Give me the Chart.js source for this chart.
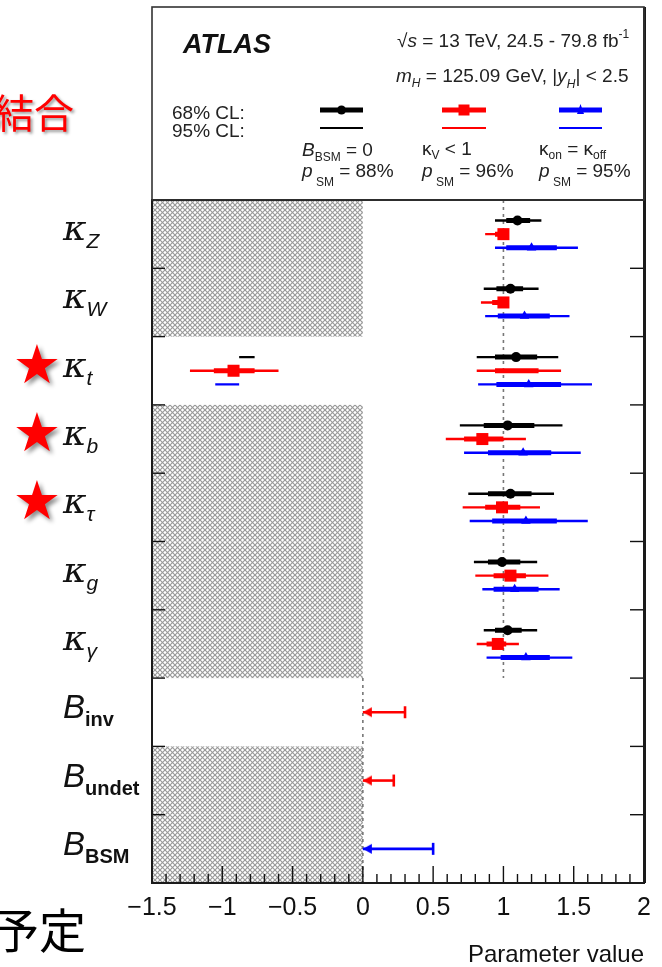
<!DOCTYPE html>
<html>
<head>
<meta charset="utf-8">
<script src="https://cdn.jsdelivr.net/npm/chart.js@4.4.0/dist/chart.umd.min.js"></script>
<style>
  html, body { margin: 0; padding: 0; background: #fff; }
  canvas { display: block; }
</style>
</head>
<body>
<canvas id="couplingChart" width="662" height="967"></canvas>
<script>
// rows, top to bottom
var rowMain = ['κ', 'κ', 'κ', 'κ', 'κ', 'κ', 'κ', 'B', 'B', 'B'];
var rowSub = ['Z', 'W', 't', 'b', 'τ', 'g', 'γ', 'inv', 'undet', 'BSM'];
var starredRows = [2, 3, 4];
var hatchedRows = [0, 1, 3, 4, 5, 6, 8, 9];
var kappaRows = [0, 1, 2, 3, 4, 5, 6];
var xTickLabels = [-1.5, -1, -0.5, 0, 0.5, 1, 1.5, 2];

// B_BSM = 0 (black)
var blackValue = [1.10, 1.05, 1.09, 1.03, 1.05, 0.99, 1.03];
var blackLo68 = [1.02, 0.95, 0.94, 0.86, 0.89, 0.89, 0.94];
var blackHi68 = [1.19, 1.14, 1.24, 1.22, 1.20, 1.12, 1.13];
var blackLo95 = [0.94, 0.86, 0.81, 0.69, 0.75, 0.79, 0.86];
var blackHi95 = [1.27, 1.25, 1.39, 1.42, 1.36, 1.24, 1.24];
var blackExtra95 = [[2, -0.88, -0.77]];

// kappa_V < 1 (red)
var redValue = [1.00, 1.00, -0.92, 0.85, 0.99, 1.05, 0.96];
var redLo68 = [0.94, 0.92, 0.94, 0.72, 0.87, 0.93, 0.88];
var redHi68 = [1.00, 1.00, 1.25, 1.00, 1.12, 1.16, 1.02];
var redLo95 = [0.87, 0.84, 0.81, 0.59, 0.71, 0.80, 0.81];
var redHi95 = [1.00, 1.00, 1.41, 1.16, 1.26, 1.32, 1.11];
var redExtra68 = [[2, -1.06, -0.77]];
var redExtra95 = [[2, -1.23, -0.60]];

// kappa_on = kappa_off (blue)
var blueValue = [1.20, 1.15, 1.18, 1.14, 1.16, 1.08, 1.16];
var blueLo68 = [1.02, 0.96, 0.95, 0.89, 0.92, 0.93, 0.98];
var blueHi68 = [1.38, 1.33, 1.41, 1.34, 1.38, 1.25, 1.33];
var blueLo95 = [0.94, 0.87, 0.82, 0.72, 0.76, 0.85, 0.88];
var blueHi95 = [1.53, 1.47, 1.63, 1.55, 1.60, 1.40, 1.49];
var blueExtra95 = [[2, -1.05, -0.88]];

// 95% CL upper limits on branching ratios
var limitRows = [7, 8, 9];
var limitValues = [0.30, 0.22, 0.50];
var limitSeries = ['red', 'red', 'blue'];

var FONT = "'Liberation Sans', Arial, sans-serif";
var colors = { black: '#000000', red: '#ff0000', blue: '#0000ff' };
var offsets = { black: -0.2, red: 0, blue: 0.2 };

function gap() { return { x: NaN, y: NaN }; }
function rowY(row, off) { return row + 0.5 + off; }

function intervals(lo, hi, off, extra) {
        var pts = [];
        for (var i = 0; i < lo.length; i++) {
                pts.push({ x: lo[i], y: rowY(kappaRows[i], off) }, { x: hi[i], y: rowY(kappaRows[i], off) }, gap());
        }
        (extra || []).forEach(function(e) {
                pts.push({ x: e[1], y: rowY(e[0], off) }, { x: e[2], y: rowY(e[0], off) }, gap());
        });
        return pts;
}

function markers(values, off) {
        return values.map(function(v, i) { return { x: v, y: rowY(kappaRows[i], off) }; });
}

function lineSet(data, color, width, order) {
        return { data: data, showLine: true, borderColor: color, borderWidth: width, pointRadius: 0,
                borderCapStyle: 'butt', spanGaps: false, order: order };
}

function arrowImage(color) {
        var c = document.createElement('canvas');
        c.width = 20; c.height = 12;
        var g = c.getContext('2d');
        g.fillStyle = color;
        g.beginPath(); g.moveTo(10, 6); g.lineTo(19, 1); g.lineTo(19, 11); g.closePath(); g.fill();
        return c;
}

var datasets = [];
['black', 'red', 'blue'].forEach(function(s) {
        var lo68 = window[s + 'Lo68'], hi68 = window[s + 'Hi68'];
        var lo95 = window[s + 'Lo95'], hi95 = window[s + 'Hi95'];
        datasets.push(lineSet(intervals(lo95, hi95, offsets[s], window[s + 'Extra95']), colors[s], 2.4, 3));
        datasets.push(lineSet(intervals(lo68, hi68, offsets[s], window[s + 'Extra68']), colors[s], 5, 2));
});
datasets.push({ data: markers(blackValue, offsets.black), pointStyle: 'circle', pointRadius: 5,
        backgroundColor: colors.black, borderWidth: 0, order: 0 });
datasets.push({ data: markers(redValue, offsets.red), pointStyle: 'rect', pointRadius: 8.5,
        backgroundColor: colors.red, borderWidth: 0, order: 0 });
datasets.push({ data: markers(blueValue, offsets.blue), pointStyle: 'triangle', pointRadius: 5.5,
        backgroundColor: colors.blue, borderWidth: 0, order: 0 });

// upper limit arrows
limitRows.forEach(function(r, i) {
        var c = colors[limitSeries[i]];
        var yv = rowY(r, 0);
        datasets.push(lineSet([{ x: 0, y: yv }, { x: limitValues[i], y: yv }], c, 2.6, 2));
        datasets.push({ data: [{ x: 0, y: yv }], pointStyle: arrowImage(c), pointRadius: 6, order: 0 });
        datasets.push({ data: [{ x: limitValues[i], y: yv }], pointStyle: 'line', pointRotation: 90,
                pointRadius: 6, borderColor: c, borderWidth: 2.6, order: 0 });
});

// SM expectation (dotted)
datasets.push({ data: [{ x: 1, y: 0 }, { x: 1, y: 7 }, gap(), { x: 0, y: 7 }, { x: 0, y: 10 }],
        showLine: true, spanGaps: false, pointRadius: 0, borderColor: '#777', borderWidth: 1.6,
        borderDash: [3, 4], order: 5 });

function hatchPattern(ctx) {
        var p = 5;
        var tile = document.createElement('canvas');
        tile.width = p; tile.height = p;
        var t = tile.getContext('2d');
        t.fillStyle = '#ffffff'; t.fillRect(0, 0, p, p);
        t.strokeStyle = '#9a9a9a'; t.lineWidth = 1.2;
        [-p, 0, p].forEach(function(k) {
                t.beginPath(); t.moveTo(k, 0); t.lineTo(k + p, p); t.stroke();
                t.beginPath(); t.moveTo(k + p, 0); t.lineTo(k, p); t.stroke();
        });
        return ctx.createPattern(tile, 'repeat');
}

function drawParts(ctx, x, y, parts) {
        ctx.textAlign = 'left';
        ctx.textBaseline = 'alphabetic';
        parts.forEach(function(p) {
                ctx.font = p[1];
                ctx.fillText(p[0], x, y + (p[2] || 0));
                x += ctx.measureText(p[0]).width;
        });
        return x;
}

var decorations = {
        id: 'decorations',
        beforeDatasetsDraw: function(chart) {
                var ctx = chart.ctx, xs = chart.scales.x, ys = chart.scales.y;
                ctx.save();
                ctx.fillStyle = hatchPattern(ctx);
                hatchedRows.forEach(function(r) {
                        var x0 = xs.getPixelForValue(xs.min), x1 = xs.getPixelForValue(0);
                        var y0 = ys.getPixelForValue(r), y1 = ys.getPixelForValue(r + 1);
                        ctx.fillRect(x0, y0, x1 - x0, y1 - y0);
                });
                ctx.restore();
        },
        afterDraw: function(chart) {
                var ctx = chart.ctx, xs = chart.scales.x, ys = chart.scales.y, a = chart.chartArea;
                ctx.save();

                // ticks
                ctx.strokeStyle = '#111'; ctx.lineWidth = 1.4;
                for (var k = -15; k <= 20; k++) {
                        var px = xs.getPixelForValue(k / 10);
                        var len = (k % 5 === 0) ? 17 : 9;
                        ctx.beginPath(); ctx.moveTo(px, a.bottom); ctx.lineTo(px, a.bottom - len); ctx.stroke();
                }
                for (var r = 1; r < rowMain.length; r++) {
                        var py = ys.getPixelForValue(r);
                        ctx.beginPath(); ctx.moveTo(a.left, py); ctx.lineTo(a.left + 13, py); ctx.stroke();
                        ctx.beginPath(); ctx.moveTo(a.right, py); ctx.lineTo(a.right - 14, py); ctx.stroke();
                }

                // frame
                ctx.strokeStyle = '#1a1a1a'; ctx.lineWidth = 2;
                ctx.strokeRect(a.left, a.top, a.right - a.left, a.bottom - a.top);
                ctx.lineWidth = 3;
                ctx.beginPath(); ctx.moveTo(a.right + 0.5, 7); ctx.lineTo(a.right + 0.5, a.bottom); ctx.stroke();

                // row labels
                ctx.fillStyle = '#111';
                rowMain.forEach(function(m, i) {
                        var cy = ys.getPixelForValue(i + 0.5);
                        if (m === 'κ') {
                                drawParts(ctx, 63, cy + 6, [[m, "italic 36px 'DejaVu Serif'", 0], [rowSub[i], 'italic 21px ' + FONT, 8]]);
                        } else {
                                drawParts(ctx, 63, cy + 6, [[m, 'italic 33px ' + FONT, 0], [rowSub[i], 'bold 20px ' + FONT, 8]]);
                        }
                });

                // stars
                ctx.save();
                ctx.fillStyle = '#ff0000';
                ctx.shadowColor = 'rgba(0,0,0,0.45)'; ctx.shadowOffsetX = 3; ctx.shadowOffsetY = 3; ctx.shadowBlur = 4;
                ctx.font = "54px 'DejaVu Sans'";
                ctx.textAlign = 'center'; ctx.textBaseline = 'middle';
                starredRows.forEach(function(r) {
                        ctx.fillText('★', 37, ys.getPixelForValue(r + 0.5) - 2);
                });
                ctx.restore();

                // header box
                ctx.strokeStyle = '#333'; ctx.lineWidth = 1.6;
                ctx.strokeRect(a.left, 7, a.right - a.left, a.top - 7);
                ctx.fillStyle = '#111';
                drawParts(ctx, 183, 53, [['ATLAS', 'bold italic 27px ' + FONT, 0]]);
                ctx.fillStyle = '#222';
                drawParts(ctx, 397, 47, [['√', '19px ' + FONT, 0], ['s', 'italic 19px ' + FONT, 0],
                        [' = 13 TeV, 24.5 - 79.8 fb', '19px ' + FONT, 0], ['-1', '12px ' + FONT, -9]]);
                drawParts(ctx, 396, 82, [['m', 'italic 19px ' + FONT, 0], ['H', 'italic 12px ' + FONT, 5],
                        [' = 125.09 GeV, |', '19px ' + FONT, 0], ['y', 'italic 19px ' + FONT, 0],
                        ['H', 'italic 12px ' + FONT, 6], ['| < 2.5', '19px ' + FONT, 0]]);
                drawParts(ctx, 172, 119, [['68% CL:', '19px ' + FONT, 0]]);
                drawParts(ctx, 172, 137, [['95% CL:', '19px ' + FONT, 0]]);
                drawParts(ctx, 302, 156, [['B', 'italic 19px ' + FONT, 0], ['BSM', '12px ' + FONT, 5], [' = 0', '19px ' + FONT, 0]]);
                drawParts(ctx, 422, 155, [['κ', '19px ' + FONT, 0], ['V', '12px ' + FONT, 4], [' < 1', '19px ' + FONT, 0]]);
                drawParts(ctx, 539, 155, [['κ', '19px ' + FONT, 0], ['on', '12px ' + FONT, 4], [' = ', '19px ' + FONT, 0],
                        ['κ', '19px ' + FONT, 0], ['off', '12px ' + FONT, 4]]);
                ['88%', '96%', '95%'].forEach(function(t, i) {
                        drawParts(ctx, [302, 422, 539][i], 177, [['p', 'italic 19px ' + FONT, 0], [' SM', '12px ' + FONT, 9],
                                [' = ' + t, '19px ' + FONT, 0]]);
                });

                // legend samples
                [['black', 320, 363], ['red', 442, 486], ['blue', 559, 602]].forEach(function(s) {
                        var c = colors[s[0]], mid = (s[1] + s[2]) / 2;
                        ctx.strokeStyle = c;
                        ctx.lineWidth = 5; ctx.beginPath(); ctx.moveTo(s[1], 110); ctx.lineTo(s[2], 110); ctx.stroke();
                        ctx.lineWidth = 2; ctx.beginPath(); ctx.moveTo(s[1], 128); ctx.lineTo(s[2], 128); ctx.stroke();
                        ctx.fillStyle = c;
                        ctx.beginPath();
                        if (s[0] === 'black') { ctx.arc(mid, 110, 4.5, 0, Math.PI * 2); }
                        else if (s[0] === 'red') { ctx.rect(mid - 5.5, 104.5, 11, 11); }
                        else { ctx.moveTo(mid, 104); ctx.lineTo(mid + 3.5, 114); ctx.lineTo(mid - 3.5, 114); ctx.closePath(); }
                        ctx.fill();
                });

                // slide notes
                ctx.save();
                ctx.textAlign = 'left'; ctx.textBaseline = 'middle';
                ctx.font = "40px 'Noto Sans CJK JP'";
                ctx.fillStyle = '#ff0000';
                ctx.shadowColor = 'rgba(0,0,0,0.4)'; ctx.shadowOffsetX = 2; ctx.shadowOffsetY = 2; ctx.shadowBlur = 3;
                ctx.fillText('結合', -6, 113);
                ctx.restore();
                ctx.font = "47px 'Noto Sans CJK JP'";
                ctx.fillStyle = '#000';
                ctx.textAlign = 'left'; ctx.textBaseline = 'middle';
                ctx.fillText('予定', -8, 930);

                ctx.restore();
        }
};

var ctx = document.getElementById('couplingChart').getContext('2d');
var chart = new Chart(ctx, {
        type: 'scatter',
        data: { datasets: datasets },
        options: {
                responsive: false,
                animation: false,
                events: [],
                layout: { padding: { left: 152, right: 18, top: 200, bottom: 0 } },
                plugins: { legend: { display: false }, tooltip: { enabled: false } },
                scales: {
                        x: {
                                type: 'linear', min: -1.5, max: 2, position: 'bottom',
                                afterFit: function(scale) { scale.height = 84; },
                                afterBuildTicks: function(scale) {
                                        scale.ticks = xTickLabels.map(function(v) { return { value: v }; });
                                },
                                grid: { display: false, drawTicks: false },
                                border: { display: false },
                                ticks: {
                                        padding: 10, maxRotation: 0, autoSkip: false, color: '#111',
                                        font: { size: 25, family: FONT },
                                        callback: function(v) { return v < 0 ? '−' + Math.abs(v) : String(v); }
                                },
                                title: {
                                        display: true, text: 'Parameter value', align: 'end', color: '#111',
                                        font: { size: 24, family: FONT }, padding: { top: 0, bottom: -3 }
                                }
                        },
                        y: { type: 'linear', min: 0, max: 10, reverse: true, display: false }
                }
        },
        plugins: [decorations]
});
</script>
</body>
</html>
